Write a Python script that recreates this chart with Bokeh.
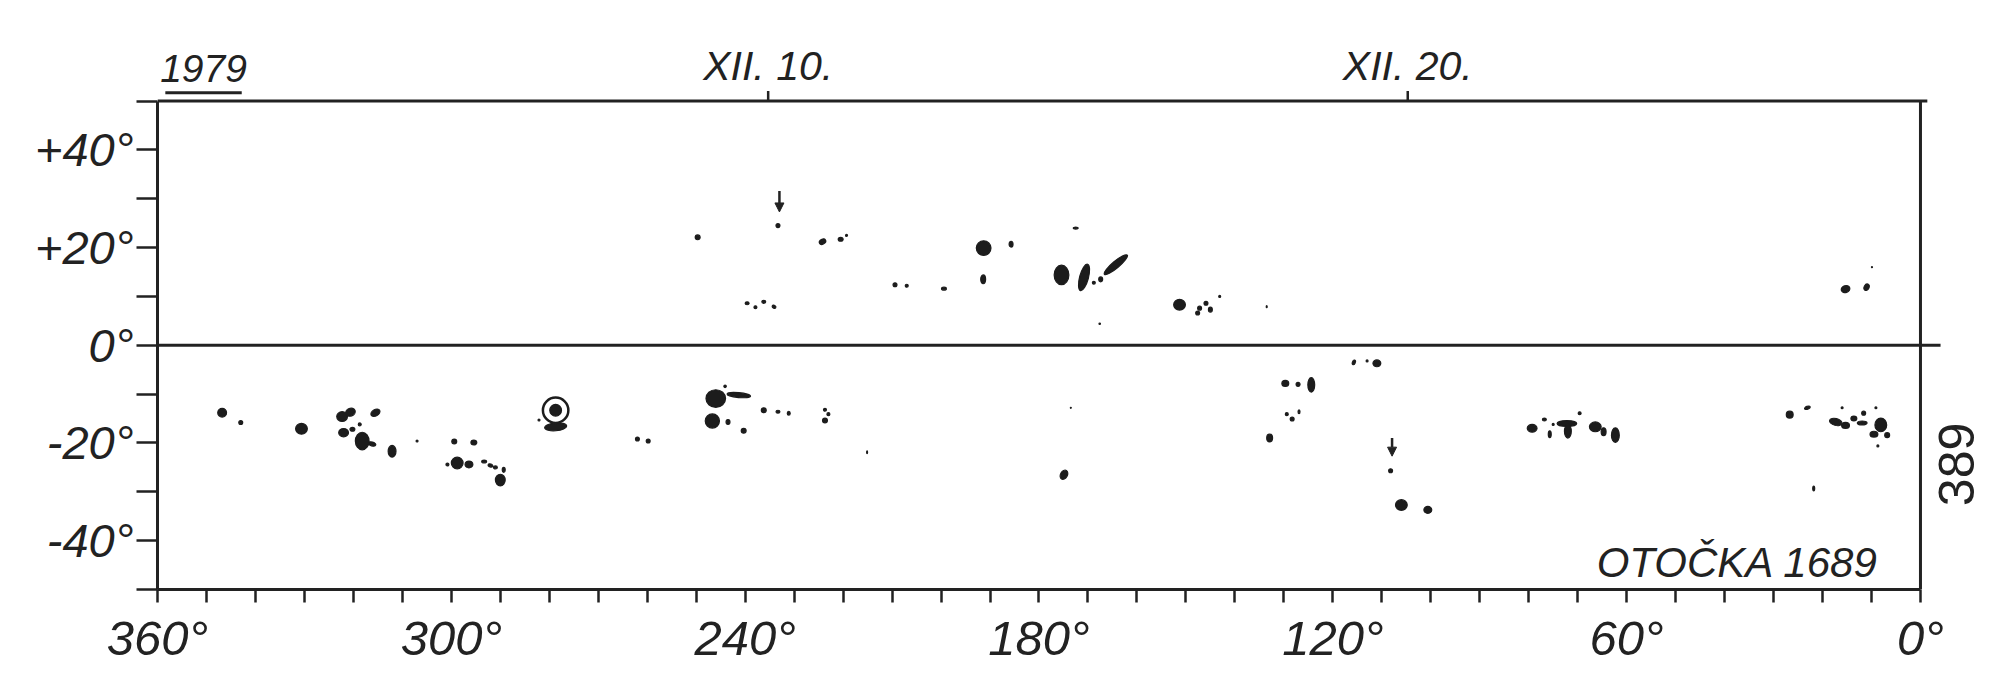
from bokeh.plotting import figure
from bokeh.models import (Range1d, FixedTicker, Label, Arrow, NormalHead, ColumnDataSource)
from bokeh.embed import file_html
from bokeh.resources import INLINE

# ---------------- data ----------------
year_label = "1979"
observer_label = "OTOČKA 1689"
page_number = "389"

date_ticks = [235.3, 104.7]
date_labels = ["XII. 10.", "XII. 20."]

lon_ticks = list(range(0, 361, 10))
lon_label_values = [360, 300, 240, 180, 120, 60, 0]
lat_ticks = list(range(-50, 51, 10))
lat_label_values = [40, 20, 0, -20, -40]

# sunspots: Carrington longitude, latitude, extent (deg), tilt (deg)
spot_lon = [346.8, 343.0, 330.6, 322.3, 320.6, 315.5, 318.7, 320.2, 322.0, 318.2,
            316.2, 312.1, 307.0, 299.4, 295.4, 300.8, 298.8, 296.4, 293.3, 292.0,
            291.0, 289.3, 290.0, 278.7, 278.7, 282.1, 262.0, 259.8, 246.0, 241.3,
            244.1, 246.7, 243.5, 240.3, 236.2, 233.3, 231.1, 223.7, 223.0, 223.7,
            215.1, 173.5, 174.9,
            233.3, 249.7, 224.2, 220.5, 219.3, 239.6, 237.9, 236.2, 234.1, 209.4,
            207.0, 199.4, 191.3, 185.7, 191.4, 172.5, 175.4, 170.8, 168.8, 167.4,
            164.3, 167.6, 151.3, 147.2, 145.9, 147.6, 145.0, 143.1, 133.5,
            115.7, 113.0, 111.0, 129.7, 127.1, 124.4, 129.4, 128.3, 126.9, 132.9,
            108.2, 106.0, 100.6, 79.3, 76.8, 75.0, 75.7, 72.2, 72.0, 69.6,
            66.4, 64.7, 62.3,
            15.3, 11.0, 9.9,
            26.7, 23.1, 16.0, 17.3, 15.3, 13.6, 11.6, 11.9, 9.1, 8.1,
            6.8, 8.7, 9.5, 21.8]
spot_lat = [-13.8, -15.8, -17.1, -14.6, -13.7, -13.8, -16.2, -17.2, -17.9, -19.6,
            -20.2, -21.7, -19.6, -19.7, -19.9, -24.4, -24.1, -24.4, -23.8, -24.6,
            -25.0, -25.5, -27.6, -13.3, -16.7, -15.3, -19.2, -19.6, -10.9, -10.2,
            -8.4, -15.5, -15.7, -17.5, -13.3, -13.6, -13.9, -13.2, -14.1, -15.4,
            -21.9, -12.8, -26.5,
            24.5, 22.1, 21.2, 21.7, 22.5, 8.6, 7.8, 8.9, 7.9, 12.4,
            12.2, 11.6, 19.9, 20.7, 13.5, 24.0, 14.4, 13.9, 12.8, 13.5,
            16.5, 4.4, 8.3, 7.6, 8.6, 6.6, 7.3, 10.0, 7.9,
            -3.5, -3.2, -3.7, -7.8, -8.0, -8.1, -14.1, -15.1, -13.6, -19.0,
            -25.7, -32.7, -33.7, -17.0, -15.2, -16.2, -18.2, -16.0, -17.6, -13.9,
            -16.7, -17.7, -18.4,
            11.5, 11.9, 16.0,
            -14.2, -12.8, -12.8, -15.7, -16.4, -15.0, -13.9, -15.9, -12.8, -16.3,
            -18.4, -20.6, -18.2, -29.3]
spot_w = [1.8, 0.8, 2.4, 2.2, 2.0, 2.0, 0.6, 1.0, 2.0, 2.8,
          1.6, 1.6, 0.4, 1.0, 1.2, 0.6, 2.4, 1.6, 1.0, 1.0,
          0.8, 0.6, 2.0, 2.4, 4.5, 0.4, 0.8, 0.8, 4.0, 4.8,
          0.5, 2.9, 0.8, 1.0, 1.0, 0.8, 0.6, 0.6, 0.6, 1.0,
          0.2, 0.2, 1.4,
          0.8, 1.0, 1.4, 1.0, 0.4, 0.8, 0.6, 0.8, 0.8, 0.8,
          0.6, 1.0, 3.0, 0.8, 1.0, 1.0, 3.0, 1.8, 0.6, 0.8,
          6.1, 0.3, 2.4, 0.8, 0.8, 0.8, 0.8, 0.4, 0.2,
          0.6, 0.4, 1.6, 1.4, 0.8, 1.4, 0.6, 0.8, 0.4, 1.2,
          0.8, 2.4, 1.6, 2.0, 0.8, 0.4, 0.6, 4.0, 1.4, 0.6,
          2.4, 1.0, 1.6,
          1.8, 1.0, 0.2,
          1.4, 1.2, 0.4, 2.6, 1.6, 1.2, 0.8, 2.0, 0.4, 2.4,
          1.0, 0.4, 1.6, 0.4]
spot_h = [1.8, 0.8, 2.2, 2.0, 1.6, 1.3, 0.6, 0.8, 1.7, 3.6,
          0.8, 2.4, 0.4, 1.0, 1.0, 0.6, 2.4, 1.4, 0.6, 0.6,
          0.6, 1.0, 2.4, 2.4, 1.6, 0.4, 0.8, 0.8, 3.6, 1.0,
          0.5, 2.9, 1.0, 1.0, 1.0, 0.6, 0.8, 0.6, 0.6, 1.0,
          0.6, 0.2, 2.0,
          0.8, 1.0, 1.0, 0.8, 0.4, 0.6, 0.6, 0.6, 0.6, 0.8,
          0.6, 0.6, 3.0, 1.2, 1.8, 0.4, 4.0, 5.6, 0.6, 1.0,
          1.4, 0.3, 2.2, 0.8, 0.8, 0.8, 1.0, 0.4, 0.4,
          1.0, 0.4, 1.4, 1.2, 0.8, 3.0, 0.6, 0.8, 0.8, 1.6,
          0.8, 2.2, 1.4, 1.6, 0.6, 0.4, 1.4, 1.2, 2.8, 0.6,
          2.0, 1.6, 3.0,
          1.4, 1.4, 0.2,
          1.4, 0.6, 0.4, 1.4, 1.2, 1.0, 0.8, 0.8, 0.4, 2.8,
          1.0, 0.4, 1.2, 1.0]
spot_tilt = [0, 0, 0, 0, 20, 30, 0, 0, 0, 0,
             -15, 0, 0, 0, 0, 0, 0, 0, 0, -20,
             0, 0, 0, 0, 5, 0, 0, 0, 0, -5,
             0, 0, 0, 0, 0, 0, 0, 0, 0, 0,
             0, 0, -30,
             0, 0, 30, 0, 0, 0, 0, 0, -30, 0,
             0, 0, 0, 0, 0, 0, 0, -15, 0, 0,
             40, 0, 0, 0, 0, 0, 0, 0, 0,
             -20, 0, 0, 0, 0, 0, 0, 0, 0, 0,
             0, 0, 0, 0, 0, 0, 0, 0, 0, 0,
             0, 0, 0,
             20, -30, 0,
             0, 20, 0, -15, 0, 0, 0, 0, 0, 0,
             0, 0, 0, 0]

# encircled spot
ring_lon = [278.7]
ring_lat = [-13.3]
ring_size = [5.2]

# arrows marking spots
arrow_lon = [233.0, 107.9]
arrow_from = [31.6, -19.0]
arrow_to = [27.3, -22.7]

# ---------------- figure ----------------
INK = "#222222"
FONT = "Liberation Sans"
LON_MIN, LON_MAX = 0, 360
LAT_MIN, LAT_MAX = -50, 50

p = figure(width=1990, height=680, output_backend="svg", toolbar_location=None,
           x_range=Range1d(360, -14.3), y_range=Range1d(-50, 62.4),
           min_border_left=157, min_border_right=0, min_border_top=40, min_border_bottom=91,
           x_axis_location="below", y_axis_location="left")
p.background_fill_color = "white"
p.border_fill_color = "white"
p.grid.visible = False
p.outline_line_color = None

# left axis (latitude)
ya = p.yaxis[0]
ya.ticker = FixedTicker(ticks=lat_ticks)
ya.bounds = (LAT_MIN, LAT_MAX)
ov = {t: "" for t in lat_ticks}
for v in lat_label_values:
    ov[v] = ("+%d°" % v) if v > 0 else ("-%d°" % -v if v < 0 else "0°")
ya.major_label_overrides = ov
ya.major_tick_out = 21
ya.major_tick_in = 0
ya.minor_tick_out = 0
ya.minor_tick_in = 0
ya.major_tick_line_width = 2.5
ya.major_tick_line_color = INK
ya.axis_line_width = 3
ya.axis_line_color = INK
ya.major_label_standoff = 3
ya.major_label_text_font = FONT
ya.major_label_text_font_style = "italic"
ya.major_label_text_font_size = "47px"
ya.major_label_text_color = INK

# bottom axis (longitude)
xa = p.xaxis[0]
xa.ticker = FixedTicker(ticks=lon_ticks)
xa.bounds = (LON_MIN, LON_MAX)
ovx = {t: "" for t in lon_ticks}
for v in lon_label_values:
    ovx[v] = "%d°" % v
xa.major_label_overrides = ovx
xa.major_tick_out = 13
xa.major_tick_in = 0
xa.minor_tick_out = 0
xa.minor_tick_in = 0
xa.major_tick_line_width = 2.5
xa.major_tick_line_color = INK
xa.axis_line_width = 3
xa.axis_line_color = INK
xa.major_label_standoff = 8
xa.major_label_text_font = FONT
xa.major_label_text_font_style = "italic"
xa.major_label_text_font_size = "49px"
xa.major_label_text_color = INK

# frame top, right edge and equator
p.line(x=[LON_MAX, LON_MIN - 1.4], y=[LAT_MAX, LAT_MAX], line_color=INK, line_width=3)
p.line(x=[LON_MIN, LON_MIN], y=[LAT_MIN, LAT_MAX], line_color=INK, line_width=3)
p.line(x=[LON_MAX, LON_MIN - 4.1], y=[0, 0], line_color=INK, line_width=3)

# date ticks on the top edge
p.segment(x0=date_ticks, y0=[LAT_MAX] * len(date_ticks), x1=date_ticks,
          y1=[LAT_MAX + 2.05] * len(date_ticks), line_color=INK, line_width=2.5)
for t, lab in zip(date_ticks, date_labels):
    p.add_layout(Label(x=t, y=57.1, text=lab, text_align="center", text_baseline="alphabetic",
                       text_font=FONT, text_font_style="italic", text_font_size="41px",
                       text_color=INK))

# spots
src = ColumnDataSource(dict(lon=spot_lon, lat=spot_lat, w=spot_w, h=spot_h, tilt=spot_tilt))
p.ellipse(x="lon", y="lat", width="w", height="h", angle="tilt", angle_units="deg",
          source=src, fill_color="#1c1c1c", line_color="#1c1c1c", line_width=1.2)
p.ellipse(x=ring_lon, y=ring_lat, width=ring_size, height=ring_size,
          fill_alpha=0, line_color="#1c1c1c", line_width=2.5)

# arrows
for lx, a0, a1 in zip(arrow_lon, arrow_from, arrow_to):
    p.add_layout(Arrow(end=NormalHead(size=9, fill_color=INK, line_color=INK),
                       x_start=lx, y_start=a0, x_end=lx, y_end=a1,
                       line_color=INK, line_width=2.5))

# texts
p.add_layout(Label(x=350.6, y=56.6, text=year_label, text_align="center",
                   text_baseline="alphabetic", text_font=FONT, text_font_style="italic",
                   text_font_size="39px", text_color=INK))
p.line(x=[358.4, 342.8], y=[51.7, 51.7], line_color=INK, line_width=3)
p.add_layout(Label(x=8.6, y=-44.4, text=observer_label, text_align="right",
                   text_baseline="alphabetic", text_font=FONT, text_font_style="italic",
                   text_font_size="42px", text_color=INK))
p.add_layout(Label(x=-7.4, y=-24.4, text=page_number, text_align="center",
                   text_baseline="middle", angle=1.5708, text_font=FONT,
                   text_font_size="50px", text_color=INK))

open("out.html", "w").write(file_html(p, INLINE))
